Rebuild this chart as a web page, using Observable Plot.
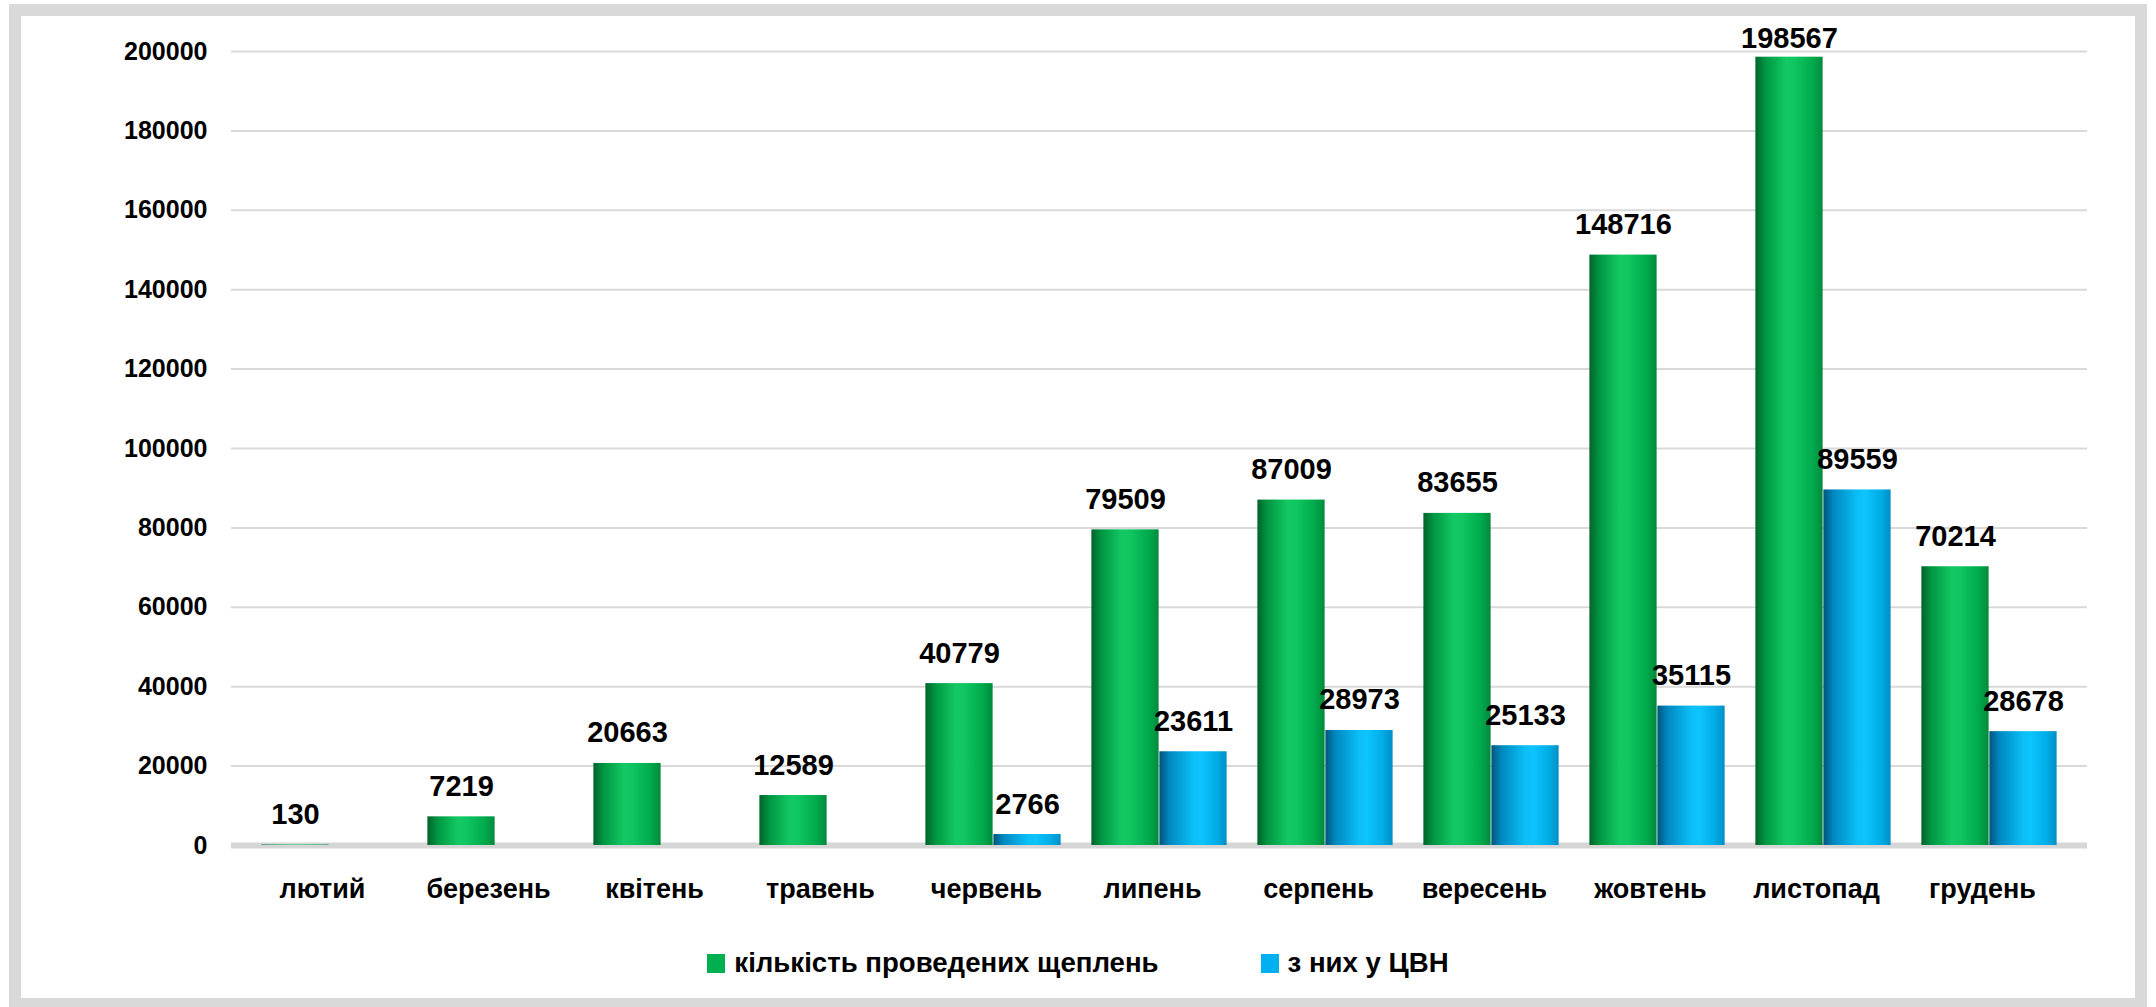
<!DOCTYPE html>
<html>
<head>
<meta charset="utf-8">
<script src="https://cdn.jsdelivr.net/npm/d3@7"></script>
<script src="https://cdn.jsdelivr.net/npm/@observablehq/plot@0.6"></script>
<style>
  html, body { margin: 0; padding: 0; background: #fff; width: 2156px; height: 1007px; overflow: hidden; }
  #frame {
    position: absolute; left: 9px; top: 4px;
    width: 2114px; height: 982px;
    border: 12px solid #d9d9d9; background: #fff;
  }
  #chart { position: absolute; left: 0; top: 0; }
  #legend {
    position: absolute; left: 0; top: 931px; width: 2114px;
    display: flex; justify-content: center; align-items: center;
    font-family: "Liberation Sans", Arial, sans-serif; font-weight: bold; font-size: 27.6px; color: #000;
  }
  .item { display: flex; align-items: center; }
  .item + .item { margin-left: 102px; }
  .sw { width: 18px; height: 19px; margin-right: 9px; }
</style>
</head>
<body>
<div id="frame">
  <div id="chart"></div>
  <div id="legend"></div>
</div>
<script>
const months = ["лютий","березень","квітень","травень","червень","липень","серпень","вересень","жовтень","листопад","грудень"];
const totalVacc = [130, 7219, 20663, 12589, 40779, 79509, 87009, 83655, 148716, 198567, 70214];
const cvnVacc = [null, null, null, null, 2766, 23611, 28973, 25133, 35115, 89559, 28678];
const yTicks = [0, 20000, 40000, 60000, 80000, 100000, 120000, 140000, 160000, 180000, 200000];
const seriesNames = ["кількість проведених щеплень", "з них у ЦВН"];
const seriesColors = ["#00b050", "#00b0f0"];

const rows = months.map((m, i) => ({month: m, total: totalVacc[i], cvn: cvnVacc[i]}));
const cvnRows = rows.filter(d => d.cvn != null);

const font = "'Liberation Sans', Arial, sans-serif";
const half = 83.38, barW = 68;

const svg = Plot.plot({
  width: 2114,
  height: 900,
  marginLeft: 210,
  marginRight: 48,
  marginTop: 35,
  marginBottom: 71,
  style: {fontFamily: font, fontWeight: "bold", color: "#000", background: "transparent", overflow: "visible"},
  x: {domain: months, paddingInner: 0, paddingOuter: 0.065, label: null},
  y: {domain: [0, 200000], label: null},
  marks: [
    Plot.gridY(yTicks, {stroke: "#d9d9d9", strokeOpacity: 1, strokeWidth: 2}),
    Plot.ruleY([0], {stroke: "#d6d6d6", strokeWidth: 6}),
    Plot.barY(rows, {x: "month", y: "total", fill: "url(#gGreen)", insetLeft: half - barW, insetRight: half}),
    Plot.barY(cvnRows, {x: "month", y: "cvn", fill: "url(#gBlue)", insetLeft: half, insetRight: half - barW}),
    Plot.text(rows.filter(d => d.total < 180000), {x: "month", y: "total", text: d => String(d.total), dx: -barW / 2, dy: -21, lineAnchor: "bottom", fontSize: 29, fontWeight: "bold", fill: "#000"}),
    Plot.text(rows.filter(d => d.total >= 180000), {x: "month", y: "total", text: d => String(d.total), dx: -barW / 2, dy: -9, lineAnchor: "bottom", fontSize: 29, fontWeight: "bold", fill: "#000"}),
    Plot.text(cvnRows, {x: "month", y: "cvn", text: d => String(d.cvn), dx: barW / 2, dy: -21, lineAnchor: "bottom", fontSize: 29, fontWeight: "bold", fill: "#000"}),
    Plot.axisY({ticks: yTicks, tickSize: 0, tickPadding: 24, fontSize: 25, fontWeight: "bold", tickFormat: d => String(d), label: null}),
    Plot.axisX({tickSize: 0, tickPadding: 33, fontSize: 27, fontWeight: "bold", dx: -7, label: null})
  ]
});

d3.select(svg).insert("defs", ":first-child").html(`
  <linearGradient id="gGreen" x1="0" y1="0" x2="1" y2="0">
    <stop offset="0" stop-color="#00642a"/>
    <stop offset="0.15" stop-color="#009642"/>
    <stop offset="0.45" stop-color="#12c963"/>
    <stop offset="0.58" stop-color="#0fc660"/>
    <stop offset="0.85" stop-color="#00aa4c"/>
    <stop offset="1" stop-color="#008a3c"/>
  </linearGradient>
  <linearGradient id="gBlue" x1="0" y1="0" x2="1" y2="0">
    <stop offset="0" stop-color="#00557c"/>
    <stop offset="0.15" stop-color="#0088c0"/>
    <stop offset="0.5" stop-color="#0bbef6"/>
    <stop offset="0.62" stop-color="#0ec4ff"/>
    <stop offset="0.85" stop-color="#00ade6"/>
    <stop offset="1" stop-color="#008fc6"/>
  </linearGradient>`);

document.getElementById("chart").appendChild(svg);

const legend = d3.select("#legend");
seriesNames.forEach((name, i) => {
  const it = legend.append("div").attr("class", "item");
  it.append("div").attr("class", "sw").style("background", seriesColors[i]);
  it.append("span").text(name);
});
</script>
</body>
</html>
